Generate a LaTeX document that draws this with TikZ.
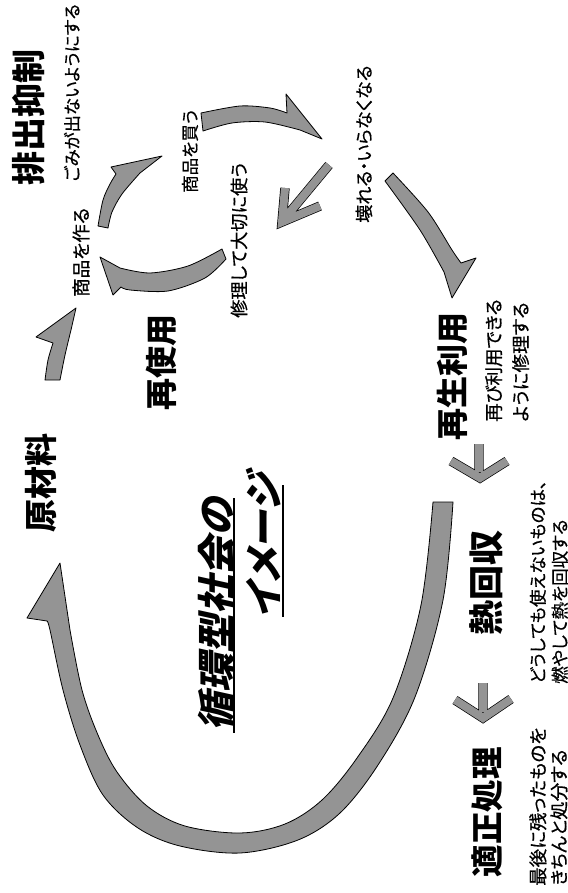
\documentclass[tikz,border=0pt]{standalone}
\usepackage{fontspec}
\newfontfamily\jp{Noto Sans CJK JP}
\newfontfamily\jpp{Noto Sans CJK JP}[RawFeature=+palt,FakeBold=0.6]
\newfontfamily\jpt{Noto Sans CJK JP}[UprightFeatures={FakeSlant=0.22},BoldFeatures={FakeSlant=0.22},RawFeature=+palt]
\tikzset{
  txt/.style={rotate=90, inner sep=0pt, text=black},
  grarrow/.style={draw=black, line width=0.8pt, fill=black!42, line join=round},
  chev/.style={draw=black, line width=0.7pt, double=black!42, double distance=8pt, line join=miter},
  uline/.style={line width=1.8pt}
}
\begin{document}
\begin{tikzpicture}[x=1pt,y=-1pt]
\useasboundingbox (0,0) rectangle (567,893);
\fill[white] (0,0) rectangle (567,893);

% headings
\node[txt, font=\jp\bfseries\fontsize{34}{34}\selectfont] (haishutsu) at (29,118) {排出抑制};
\node[txt, font=\jp\bfseries\fontsize{32}{32}\selectfont] (saishiyo) at (161,362) {再使用};
\node[txt, font=\jp\bfseries\fontsize{33}{33}\selectfont] (genzai) at (41,483) {原材料};
\node[txt, font=\jpt\bfseries\fontsize{39}{39}\selectfont] (t1) at (217,615) {循環型社会の};
\node[txt, font=\jpt\bfseries\fontsize{39}{39}\selectfont] (t2) at (264,546) {イメージ};
\node[txt, font=\jp\bfseries\fontsize{32}{32}\selectfont] (saisei) at (452,376) {再生利用};
\node[txt, font=\jp\bfseries\fontsize{35}{35}\selectfont] (netsu) at (486,583) {熱回収};
\node[txt, font=\jp\bfseries\fontsize{32.5}{32.5}\selectfont] (tekisei) at (487,812) {適正処理};

% small texts (anchored at their start)
\node[txt, anchor=west, font=\jpp\fontsize{17.4}{17.4}\selectfont] (gomi) at (72,182) {ごみが出ないようにする};
\node[txt, anchor=west, font=\jpp\fontsize{18.5}{18.5}\selectfont] (tsukuru) at (81,297) {商品を作る};
\node[txt, anchor=west, font=\jpp\fontsize{17.5}{17.5}\selectfont] (kau) at (190,193) {商品を買う};
\node[txt, anchor=west, font=\jpp\fontsize{18.2}{18.2}\selectfont] (shuri) at (239,318) {修理して大切に使う};
\node[txt, anchor=west, font=\jpp\fontsize{18}{18}\selectfont] (kowareru) at (364,223) {壊れる・いらなくなる};
\node[txt, anchor=north west, align=left, font=\jpp\fontsize{18.5}{27}\selectfont] (saiseiD) at (485,422) {再び利用できる\\ように修理する};
\node[txt, anchor=north west, align=left, font=\jpp\fontsize{17.5}{22}\selectfont] (netsuD) at (529.5,684) {どうしても使えないものは、\\燃やして熱を回収する};
\node[txt, anchor=north west, align=left, font=\jpp\fontsize{18.5}{21}\selectfont] (tekiseiD) at (529,886) {最後に残ったものを\\きちんと処分する};

% title underlines
\draw[uline] (234,498) -- (234,733);
\draw[uline] (283,485) -- (283,617);

% big loop arrow
\draw[grarrow] plot[smooth, tension=0.55] coordinates {(453,502) (443,600) (415,697) (378,765) (340,813) (298,840) (240,853) (180,846) (138,828) (103,795) (80,745) (63,690) (50,630) (47,621)}
  -- (27,618) -- (60,563)
  -- plot[smooth, tension=0.55] coordinates {(70,630) (82,690) (98,735) (117,772) (147,806) (185,826) (240,833) (285,824) (322,800) (357,758) (393,698) (421,605) (433,502)} -- cycle;

% raw material -> make
\draw[grarrow] plot[smooth] coordinates {(45,380) (48,360) (53,343)} -- (36,337) -- (76,308)
  -- plot[smooth] coordinates {(71,330) (65,355) (60,380)} -- cycle;

% make -> buy
\draw[grarrow] plot[smooth] coordinates {(98,226) (103,200) (110,184) (116,174)} -- (111,167) -- (162,156)
  -- plot[smooth] coordinates {(140,173) (122,194) (112,212) (108,228)} -- cycle;

% buy -> broken
\draw[grarrow] plot[smooth] coordinates {(201,113) (240,106) (270,108) (287,113)} -- (286,94) -- (322,139)
  -- plot[smooth] coordinates {(300,130) (265,122) (232,123) (203,131)} -- cycle;

% repair -> make
\draw[grarrow] plot[smooth] coordinates {(226,259) (205,278) (168,291) (130,290) (121,287)} -- (113,295) -- (100,257)
  -- plot[smooth] coordinates {(120,268) (150,273) (188,266) (222,249)} -- cycle;

% broken -> repair (chevron)
\draw[chev] (329,165) -- (285,218) (285,188) -- (282,222) -- (320,206);

% broken -> recycle
\draw[grarrow] plot[smooth] coordinates {(393,173) (428,212) (452,250) (461,263)} -- (476,258) -- (452,298)
  -- plot[smooth] coordinates {(444,272) (420,230) (385,181)} -- cycle;

% chevrons down
\draw[chev] (479,444) -- (479,472) (451,461) -- (480,478) -- (507,461);
\draw[chev] (483,683) -- (483,712) (455,700) -- (483,718) -- (511,699);
\end{tikzpicture}
\end{document}
